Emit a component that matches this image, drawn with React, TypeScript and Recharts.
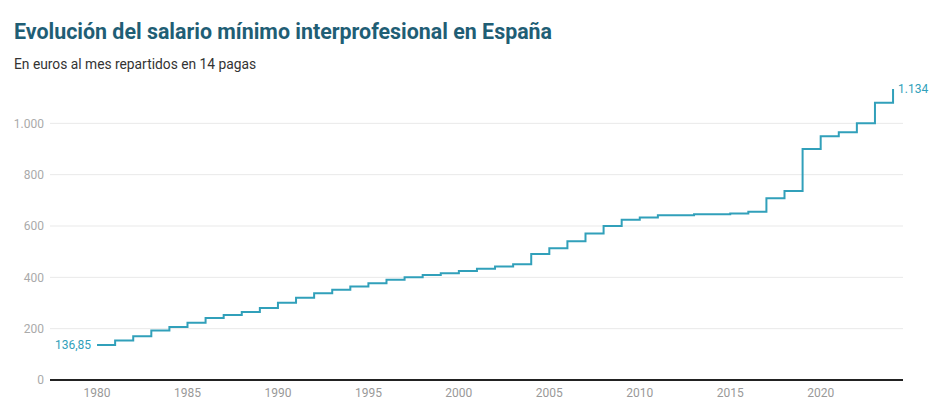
import React from "react";
import { LineChart, Line, XAxis, YAxis, CartesianGrid } from "recharts";

const years = [
  1980, 1981, 1982, 1983, 1984, 1985, 1986, 1987, 1988, 1989,
  1990, 1991, 1992, 1993, 1994, 1995, 1996, 1997, 1998, 1999,
  2000, 2001, 2002, 2003, 2004, 2005, 2006, 2007, 2008, 2009,
  2010, 2011, 2012, 2013, 2014, 2015, 2016, 2017, 2018, 2019,
  2020, 2021, 2022, 2023, 2024,
];
const salario = [
  136.85, 153.98, 170.93, 193.29, 206.63, 223.4, 241.25, 253.33, 264.69, 280.55,
  300.57, 320.04, 338.25, 351.77, 364.03, 376.83, 390.18, 400.46, 408.93, 416.32,
  424.8, 433.45, 442.2, 451.2, 490.8, 513.0, 540.9, 570.6, 600.0, 624.0,
  633.3, 641.4, 641.4, 645.3, 645.3, 648.6, 655.2, 707.7, 735.9, 900.0,
  950.0, 965.0, 1000.0, 1080.0, 1134.0,
];
const xTicks = [1980, 1985, 1990, 1995, 2000, 2005, 2010, 2015, 2020];
const yTicks = [0, 200, 400, 600, 800, 1000];
const gridValues = [200, 400, 600, 800, 1000];

const data = years.map((y, i) => ({ year: y, value: salario[i] }));

const LINE = "#31a0ba";
const FONT = "Roboto, 'Noto Sans', sans-serif";

const fmtY = (v: number) => String(v).replace(/(\d)(?=(\d{3})+$)/, "$1.");
const fmtLabel = (v: number) =>
  v % 1 === 0 ? fmtY(v) : v.toFixed(2).replace(".", ",");

// only the first and last points carry a value label
function EndLabel(props: any) {
  const { x, y, index, value } = props;
  if (index === 0) {
    return (
      <text x={x - 6} y={y} dy="0.35em" textAnchor="end" fill={LINE} fontSize={12} fontFamily={FONT}>
        {fmtLabel(value)}
      </text>
    );
  }
  if (index === data.length - 1) {
    return (
      <text x={x + 5} y={y} dy="0.35em" textAnchor="start" fill={LINE} fontSize={12} fontFamily={FONT}>
        {fmtLabel(value)}
      </text>
    );
  }
  return null;
}

export default function App() {
  return (
    <div style={{ position: "absolute", left: 0, top: 0, width: 950, height: 414, background: "#fff", fontFamily: FONT }}>
      <div style={{ position: "absolute", left: 14, top: 19, fontSize: 21.4, fontWeight: 700, color: "#1f5e75", whiteSpace: "nowrap" }}>
        Evolución del salario mínimo interprofesional en España
      </div>
      <div style={{ position: "absolute", left: 14, top: 56, fontSize: 13.8, color: "#333", whiteSpace: "nowrap" }}>
        En euros al mes repartidos en 14 pagas
      </div>
      <div style={{ position: "absolute", left: 0, top: 0 }}>
        <LineChart width={950} height={414} data={data} margin={{ top: 72, right: 47, bottom: 4, left: 0 }}>
          <CartesianGrid vertical={false} horizontalValues={gridValues} stroke="#e9e9e9" />
          <XAxis
            dataKey="year"
            type="number"
            domain={[1977.4, 2024.55]}
            ticks={xTicks}
            tickLine={false}
            axisLine={{ stroke: "#222", strokeWidth: 2 }}
            tick={{ fontSize: 12, fill: "#999", fontFamily: FONT }}
            height={30}
          />
          <YAxis
            type="number"
            domain={[0, 1200]}
            ticks={yTicks}
            width={50}
            axisLine={false}
            tickLine={false}
            tickSize={4}
            tickFormatter={fmtY}
            tick={{ fontSize: 12, fill: "#aaa", fontFamily: FONT }}
          />
          <Line
            type="stepAfter"
            dataKey="value"
            stroke={LINE}
            strokeWidth={2}
            dot={false}
            isAnimationActive={false}
            label={<EndLabel />}
          />
        </LineChart>
      </div>
    </div>
  );
}
